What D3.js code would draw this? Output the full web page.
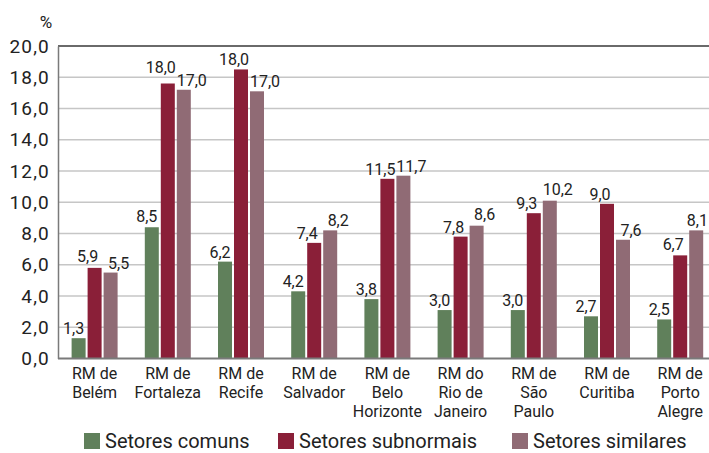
<!DOCTYPE html>
<head>
  <meta charset="utf-8" />
  <script src="https://d3js.org/d3.v7.min.js"></script>
  <style>
    body { margin: 0; background: #fff; }
    text { font-family: Roboto, "Noto Sans", sans-serif; fill: #222; }
  </style>
</head>
<body>
<script>
  // regioes metropolitanas (linhas do rotulo)
  var categorias = [
    ["RM de", "Belém"],
    ["RM de", "Fortaleza"],
    ["RM de", "Recife"],
    ["RM de", "Salvador"],
    ["RM de", "Belo", "Horizonte"],
    ["RM do", "Rio de", "Janeiro"],
    ["RM de", "São", "Paulo"],
    ["RM de", "Curitiba"],
    ["RM de", "Porto", "Alegre"]
  ];
  var series = ["Setores comuns", "Setores subnormais", "Setores similares"];
  var cores = ["#60805b", "#8a1f38", "#906b75"];

  // altura das barras
  var comuns      = [1.3, 8.4, 6.2, 4.3, 3.8, 3.1, 3.1, 2.7, 2.5];
  var subnormais  = [5.8, 17.6, 18.5, 7.4, 11.5, 7.8, 9.3, 9.9, 6.6];
  var similares   = [5.5, 17.2, 17.1, 8.2, 11.7, 8.5, 10.1, 7.6, 8.2];
  // rotulos impressos
  var rotComuns     = ["1,3", "8,5", "6,2", "4,2", "3,8", "3,0", "3,0", "2,7", "2,5"];
  var rotSubnormais = ["5,9", "18,0", "18,0", "7,4", "11,5", "7,8", "9,3", "9,0", "6,7"];
  var rotSimilares  = ["5,5", "17,0", "17,0", "8,2", "11,7", "8,6", "10,2", "7,6", "8,1"];
  var yTicks = [0, 2, 4, 6, 8, 10, 12, 14, 16, 18, 20];

  var valores = [comuns, subnormais, similares];
  var rotulos = [rotComuns, rotSubnormais, rotSimilares];

  var width = 709, height = 453;
  var left = 58, plotTop = 46, bottom = 358.5;

  var svg = d3.select("body").append("svg")
    .attr("width", width).attr("height", height);

  var x = d3.scaleBand()
    .domain(d3.range(categorias.length))
    .range([left, left + 9 * 73.2]);
  var x1 = d3.scaleBand()
    .domain(d3.range(series.length))
    .range([-23, 23])
    .paddingInner(0.125);
  var y = d3.scaleLinear().domain([0, 20]).range([bottom, plotTop]);

  // grade
  svg.append("g").selectAll("line")
    .data(yTicks.slice(1, -1))
    .join("line")
    .attr("x1", left).attr("x2", width)
    .attr("y1", d => y(d)).attr("y2", d => y(d))
    .attr("stroke", "#c6c6c6").attr("stroke-width", 1.5);

  svg.append("line")
    .attr("x1", left).attr("x2", width)
    .attr("y1", y(20)).attr("y2", y(20))
    .attr("stroke", "#6a6a6a").attr("stroke-width", 2);

  // eixo y
  var yAxis = d3.axisLeft(y).tickValues(yTicks).tickSize(0).tickPadding(8)
    .tickFormat(d => d3.format(".1f")(d).replace(".", ","));
  var gy = svg.append("g").attr("transform", "translate(" + left + ",0)").call(yAxis);
  gy.select(".domain").attr("stroke", "#7a7a7a").attr("stroke-width", 1.5);
  gy.selectAll("text")
    .style("font-family", "Roboto, sans-serif")
    .style("font-size", "19px")
    .style("letter-spacing", "1.2px")
    .attr("fill", "#222");

  svg.append("text")
    .attr("x", 46).attr("y", 28)
    .attr("text-anchor", "middle")
    .style("font-size", "17px")
    .text("%");

  // barras
  var offsets = [-5, -7, 8];
  series.forEach(function (s, si) {
    var g = svg.append("g");
    g.selectAll("rect")
      .data(valores[si])
      .join("rect")
      .attr("x", (d, i) => x(i) + x.bandwidth() / 2 + x1(si))
      .attr("width", x1.bandwidth())
      .attr("y", d => y(d))
      .attr("height", d => bottom - y(d))
      .attr("fill", cores[si]);

    g.selectAll("text")
      .data(valores[si])
      .join("text")
      .attr("x", (d, i) => x(i) + x.bandwidth() / 2 + x1(si) + x1.bandwidth() / 2 + offsets[si])
      .attr("y", (d, i) => y(Math.max(d, +rotulos[si][i].replace(",", "."))) - 4)
      .attr("text-anchor", "middle")
      .style("font-size", "16px")
      .text((d, i) => rotulos[si][i])
      .each(function () {
        // nao deixar o rotulo sair pela direita
        var w = this.getComputedTextLength();
        var cx = +this.getAttribute("x");
        if (cx + w / 2 > width - 1) this.setAttribute("x", width - 1 - w / 2);
      });
  });

  // eixo x
  svg.append("line")
    .attr("x1", left).attr("x2", width)
    .attr("y1", bottom).attr("y2", bottom)
    .attr("stroke", "#7a7a7a").attr("stroke-width", 2);

  var cat = svg.append("g").selectAll("text")
    .data(categorias)
    .join("text")
    .attr("text-anchor", "middle")
    .style("font-size", "16px");
  cat.selectAll("tspan")
    .data((d, i) => d.map(t => ({ t: t, i: i })))
    .join("tspan")
    .attr("x", d => x(d.i) + x.bandwidth() / 2)
    .attr("y", (d, j) => 379 + j * 19)
    .text(d => d.t);

  // legenda
  var legX = [84, 278, 512];
  var leg = svg.append("g").selectAll("g")
    .data(series)
    .join("g")
    .attr("transform", (d, i) => "translate(" + legX[i] + ",433)");
  leg.append("rect")
    .attr("width", 16).attr("height", 16)
    .attr("fill", (d, i) => cores[i]);
  leg.append("text")
    .attr("x", 21).attr("y", 15)
    .style("font-size", "20px")
    .text(d => d);
</script>
</body>
